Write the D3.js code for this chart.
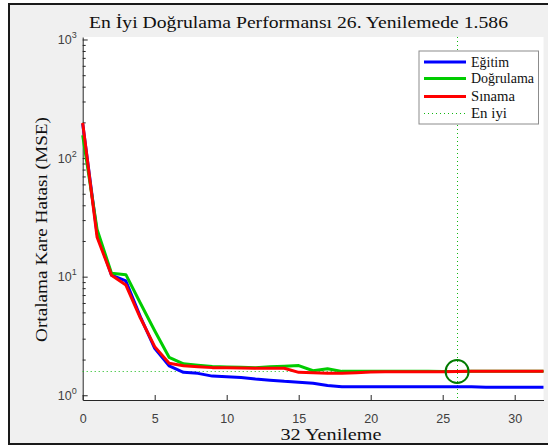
<!DOCTYPE html>
<html>
<head>
<meta charset="utf-8">
<script src="https://cdn.jsdelivr.net/npm/d3@7"></script>
<style>
  body { margin: 0; background: #fff; }
  .serif { font-family: 'Liberation Serif', 'DejaVu Serif', 'Times New Roman', serif; }
  .sans { font-family: 'Liberation Sans', Arial, sans-serif; }
</style>
</head>
<body>
<div id="chart"></div>
<script>
// values
let iterations = [0, 1, 2, 3, 4, 5, 6, 7, 8, 9, 10, 11, 12, 13, 14, 15, 16,
  17, 18, 19, 20, 21, 22, 23, 24, 25, 26, 27, 28, 29, 30, 31, 32];
let egitim = [195, 23, 10.3, 9.2, 4.6, 2.49, 1.77, 1.56, 1.53, 1.45, 1.43, 1.41, 1.37, 1.34, 1.31, 1.29, 1.26,
  1.21, 1.18, 1.18, 1.18, 1.18, 1.18, 1.18, 1.18, 1.18, 1.18, 1.18, 1.17, 1.17, 1.17, 1.17, 1.17];
let dogrulama = [156, 25, 10.7, 10.4, 6.0, 3.5, 2.09, 1.84, 1.79, 1.75, 1.73, 1.72, 1.71, 1.74, 1.76, 1.78, 1.61,
  1.67, 1.59, 1.59, 1.59, 1.59, 1.59, 1.59, 1.59, 1.588, 1.586, 1.59, 1.59, 1.59, 1.59, 1.59, 1.59];
let sinama = [198, 21.5, 10.3, 8.5, 4.5, 2.57, 1.86, 1.77, 1.74, 1.71, 1.71, 1.70, 1.69, 1.69, 1.69, 1.56, 1.55,
  1.53, 1.53, 1.55, 1.57, 1.58, 1.58, 1.58, 1.58, 1.58, 1.585, 1.59, 1.59, 1.59, 1.59, 1.59, 1.59];
let bestEpoch = 26;
let bestPerf = 1.586;
let xTicks = [0, 5, 10, 15, 20, 25, 30];
let yDecades = [0, 1, 2, 3];
let legendNames = ['Eğitim', 'Doğrulama', 'Sınama', 'En iyi'];
let titleText = 'En İyi Doğrulama Performansı 26. Yenilemede 1.586';
let xLabelText = '32 Yenileme';
let yLabelText = 'Ortalama Kare Hatası (MSE)';

let config = { svg: {}, plot: {} };
config.svg.width = 548;
config.svg.height = 446;
config.plot.left = 82.7;
config.plot.right = 543.5;
config.plot.top = 37;
config.plot.bottom = 400;

let axisColor = '#262626';
let dotGreen = '#11b811';

let svg = d3.select('#chart').append('svg')
  .attr('width', config.svg.width)
  .attr('height', config.svg.height);

// figure window
svg.append('rect')
  .attr('x', 9).attr('y', 4)
  .attr('width', 560).attr('height', 440)
  .attr('fill', '#f0f0f0')
  .attr('stroke', '#1a1a1a')
  .attr('stroke-width', 2);

let x = d3.scaleLinear().domain([0, 32]).range([config.plot.left, config.plot.right]);
let y = d3.scaleLog().domain([Math.pow(10, -0.04), Math.pow(10, 3.021)])
  .range([config.plot.bottom, config.plot.top]);

// plot area
svg.append('rect')
  .attr('x', config.plot.left).attr('y', config.plot.top)
  .attr('width', config.plot.right - config.plot.left)
  .attr('height', config.plot.bottom - config.plot.top)
  .attr('fill', '#fff');

// x axis (ticks pointing inward)
let xAxis = d3.axisBottom(x).tickValues(xTicks).tickSize(-5).tickPadding(14).tickSizeOuter(0);
let gx = svg.append('g')
  .attr('transform', 'translate(0,' + config.plot.bottom + ')')
  .call(xAxis);
gx.attr('font-family', null).attr('font-size', null);
gx.select('.domain').attr('stroke', axisColor);
gx.selectAll('.tick line').attr('stroke', axisColor);
gx.selectAll('.tick text')
  .attr('class', 'sans')
  .attr('fill', '#404040')
  .style('font-size', '12.5px');

// y axis, log scale with minor ticks
let minorTicks = [];
yDecades.slice(0, -1).forEach(function(d) {
  for (let k = 2; k <= 9; k++) minorTicks.push(k * Math.pow(10, d));
});
let gyMinor = svg.append('g')
  .attr('transform', 'translate(' + config.plot.left + ',0)')
  .call(d3.axisLeft(y).tickValues(minorTicks).tickSize(-3).tickFormat('').tickSizeOuter(0));
gyMinor.select('.domain').attr('stroke', axisColor);
gyMinor.selectAll('.tick line').attr('stroke', axisColor);

let gy = svg.append('g')
  .attr('transform', 'translate(' + config.plot.left + ',0)')
  .call(d3.axisLeft(y).tickValues(yDecades.map(d => Math.pow(10, d))).tickSize(-5).tickFormat('').tickSizeOuter(0));
gy.attr('font-family', null).attr('font-size', null);
gy.select('.domain').remove();
gy.selectAll('.tick line').attr('stroke', axisColor);
gy.selectAll('.tick').append('text')
  .attr('class', 'sans')
  .attr('x', -6)
  .attr('y', 4)
  .attr('text-anchor', 'end')
  .attr('fill', '#404040')
  .style('font-size', '12.5px')
  .each(function(d) {
    let t = d3.select(this);
    t.append('tspan').text('10');
    t.append('tspan').attr('dy', -6).style('font-size', '9px').text(Math.round(Math.log10(d)));
  });

// best lines (snapped to pixel centres so the dots stay green)
let bx = Math.floor(x(bestEpoch)) + 0.5;
let by = Math.floor(y(bestPerf)) + 0.5;
svg.append('line')
  .attr('x1', bx).attr('x2', bx)
  .attr('y1', config.plot.top).attr('y2', config.plot.bottom)
  .attr('stroke', dotGreen).attr('stroke-width', 1)
  .attr('stroke-dasharray', '1,3');
svg.append('line')
  .attr('x1', x(0)).attr('x2', x(32))
  .attr('y1', by).attr('y2', by)
  .attr('stroke', dotGreen).attr('stroke-width', 1)
  .attr('stroke-dasharray', '1,3');

let series = [
  { name: 'Eğitim', values: egitim, color: '#0000ff' },
  { name: 'Doğrulama', values: dogrulama, color: '#00cc00' },
  { name: 'Sınama', values: sinama, color: '#ff0000' }
];

let line = d3.line()
  .x(function(d, i) { return x(iterations[i]); })
  .y(function(d) { return y(d); });

svg.selectAll('.series')
  .data(series)
  .enter().append('path')
  .attr('class', 'series')
  .attr('d', function(d) { return line(d.values); })
  .attr('fill', 'none')
  .attr('stroke', function(d) { return d.color; })
  .attr('stroke-width', 3)
  .attr('stroke-linejoin', 'round');

// best point circle
svg.append('circle')
  .attr('cx', x(bestEpoch)).attr('cy', y(bestPerf))
  .attr('r', 11.5)
  .attr('fill', 'none')
  .attr('stroke', '#007a00')
  .attr('stroke-width', 2);

// title and labels
svg.append('text')
  .attr('class', 'serif')
  .attr('x', 298.5).attr('y', 28)
  .attr('text-anchor', 'middle')
  .attr('textLength', 419)
  .attr('lengthAdjust', 'spacingAndGlyphs')
  .style('font-size', '17.5px')
  .attr('fill', '#111')
  .text(titleText);

svg.append('text')
  .attr('class', 'serif')
  .attr('x', 331).attr('y', 440)
  .attr('text-anchor', 'middle')
  .attr('textLength', 101)
  .attr('lengthAdjust', 'spacingAndGlyphs')
  .style('font-size', '17px')
  .attr('fill', '#111')
  .text(xLabelText);

svg.append('text')
  .attr('class', 'serif')
  .attr('transform', 'translate(46.5,229.5) rotate(-90)')
  .attr('text-anchor', 'middle')
  .attr('textLength', 225)
  .attr('lengthAdjust', 'spacingAndGlyphs')
  .style('font-size', '17.5px')
  .attr('fill', '#111')
  .text(yLabelText);

// legend
let legend = svg.append('g').attr('transform', 'translate(419,51)');
legend.append('rect')
  .attr('width', 119.5).attr('height', 73)
  .attr('fill', '#fff')
  .attr('stroke', '#8c8c8c')
  .attr('stroke-width', 1);
let legendColors = ['#0000ff', '#00cc00', '#ff0000', dotGreen];
let legendY = [11, 27.5, 45.5, 62];
let legendWidths = [38, 63, 44, 36];
legendNames.forEach(function(name, i) {
  let ln = legend.append('line')
    .attr('x1', 5).attr('x2', 47)
    .attr('y1', legendY[i]).attr('y2', legendY[i])
    .attr('stroke', legendColors[i]);
  if (i === 3) ln.attr('stroke-width', 1).attr('y1', 62.5).attr('y2', 62.5).attr('stroke-dasharray', '1,3');
  else ln.attr('stroke-width', 3);
  legend.append('text')
    .attr('class', 'serif')
    .attr('x', 52).attr('y', legendY[i] + 4.5)
    .attr('textLength', legendWidths[i])
    .attr('lengthAdjust', 'spacingAndGlyphs')
    .style('font-size', '14px')
    .attr('fill', '#111')
    .text(name);
});
</script>
</body>
</html>
